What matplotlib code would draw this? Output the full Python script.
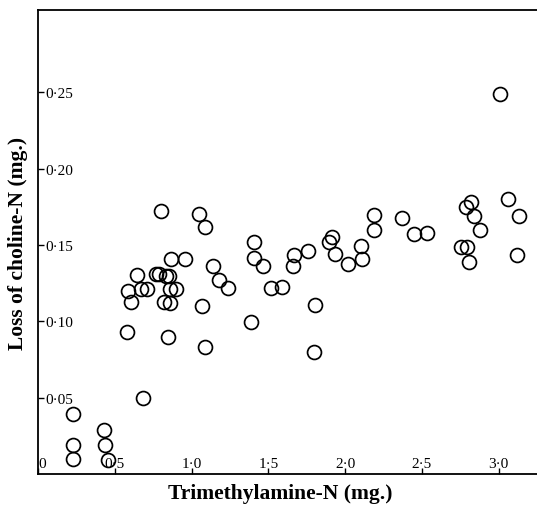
import numpy as np
import matplotlib
matplotlib.use("Agg")
import matplotlib.pyplot as plt

# trimethylamine-N (mg.) vs loss of choline-N (mg.)
tma_n = [0.226, 0.226, 0.226, 0.428, 0.438, 0.454, 0.684,
         0.581, 0.846, 1.088, 1.385, 1.067, 0.605, 0.584, 0.645,
         0.670, 0.708, 0.770, 0.790, 0.833, 0.856, 0.822, 0.861,
         0.858, 0.900, 0.866, 0.958, 1.139, 1.180, 1.235, 0.798,
         1.050, 1.088, 1.405, 1.405, 1.463, 1.520, 1.589, 1.803,
         1.800, 1.665, 1.660, 1.756, 1.918, 1.897, 1.934, 2.016,
         2.105, 2.107, 2.190, 2.190, 2.370, 2.446, 2.533, 2.786,
         2.823, 2.840, 2.880, 2.758, 2.797, 2.810, 3.010, 3.058,
         3.134, 3.118]
choline_loss = [0.039, 0.019, 0.010, 0.029, 0.019, 0.009, 0.050,
                0.093, 0.090, 0.083, 0.0995, 0.110, 0.113, 0.1196, 0.1305,
                0.121, 0.121, 0.131, 0.131, 0.130, 0.130, 0.1126, 0.112,
                0.121, 0.121, 0.141, 0.141, 0.1366, 0.127, 0.122, 0.172,
                0.1705, 0.162, 0.152, 0.1416, 0.136, 0.1218, 0.1222, 0.111,
                0.080, 0.1438, 0.1362, 0.146, 0.155, 0.152, 0.1443, 0.1375,
                0.1497, 0.141, 0.170, 0.1596, 0.168, 0.157, 0.158, 0.175,
                0.178, 0.169, 0.1596, 0.1487, 0.1487, 0.139, 0.249, 0.180,
                0.1688, 0.1432]

x_ticks = [0, 0.5, 1.0, 1.5, 2.0, 2.5, 3.0]
x_labels = ["0", "0\u00b75", "1\u00b70", "1\u00b75", "2\u00b70", "2\u00b75", "3\u00b70"]
y_ticks = [0.05, 0.10, 0.15, 0.20, 0.25]
y_labels = ["0\u00b705", "0\u00b710", "0\u00b715", "0\u00b720", "0\u00b725"]

plt.rcParams['font.family'] = ['Liberation Serif', 'DejaVu Serif']

fig = plt.figure(figsize=(5.37, 5.10), dpi=100)
ax = fig.add_axes([0.0708, 0.0686, 0.9292, 0.9098])

ax.plot(tma_n, choline_loss, 'o', ms=10, mfc='none', mec='black', mew=1.25)

ax.set_xlim(0, 3.25)
ax.set_ylim(0, 0.304)

ax.spines['right'].set_visible(False)
for s in ['left', 'bottom', 'top']:
    ax.spines[s].set_linewidth(1.3)

ax.set_xticks(x_ticks)
ax.set_xticklabels(x_labels, fontsize=11)
ax.set_yticks(y_ticks)
ax.set_yticklabels(y_labels, fontsize=11)

ax.tick_params(axis='x', direction='in', length=4, width=1, pad=-3)
ax.tick_params(axis='y', direction='in', length=4, width=1, pad=-5)
for lab in ax.get_xticklabels():
    lab.set_va('bottom')
ax.get_xticklabels()[0].set_ha('left')
for lab in ax.get_yticklabels():
    lab.set_ha('left')

fig.text(0.521, 0.031, "Trimethylamine-N (mg.)", ha='center', va='center',
         fontsize=15.5, fontweight='bold')
fig.text(0.0335, 0.5235, "Loss of choline-N (mg.)", ha='center', va='center',
         rotation=90, fontsize=15.5, fontweight='bold')

fig.savefig("out.png", dpi=100)
